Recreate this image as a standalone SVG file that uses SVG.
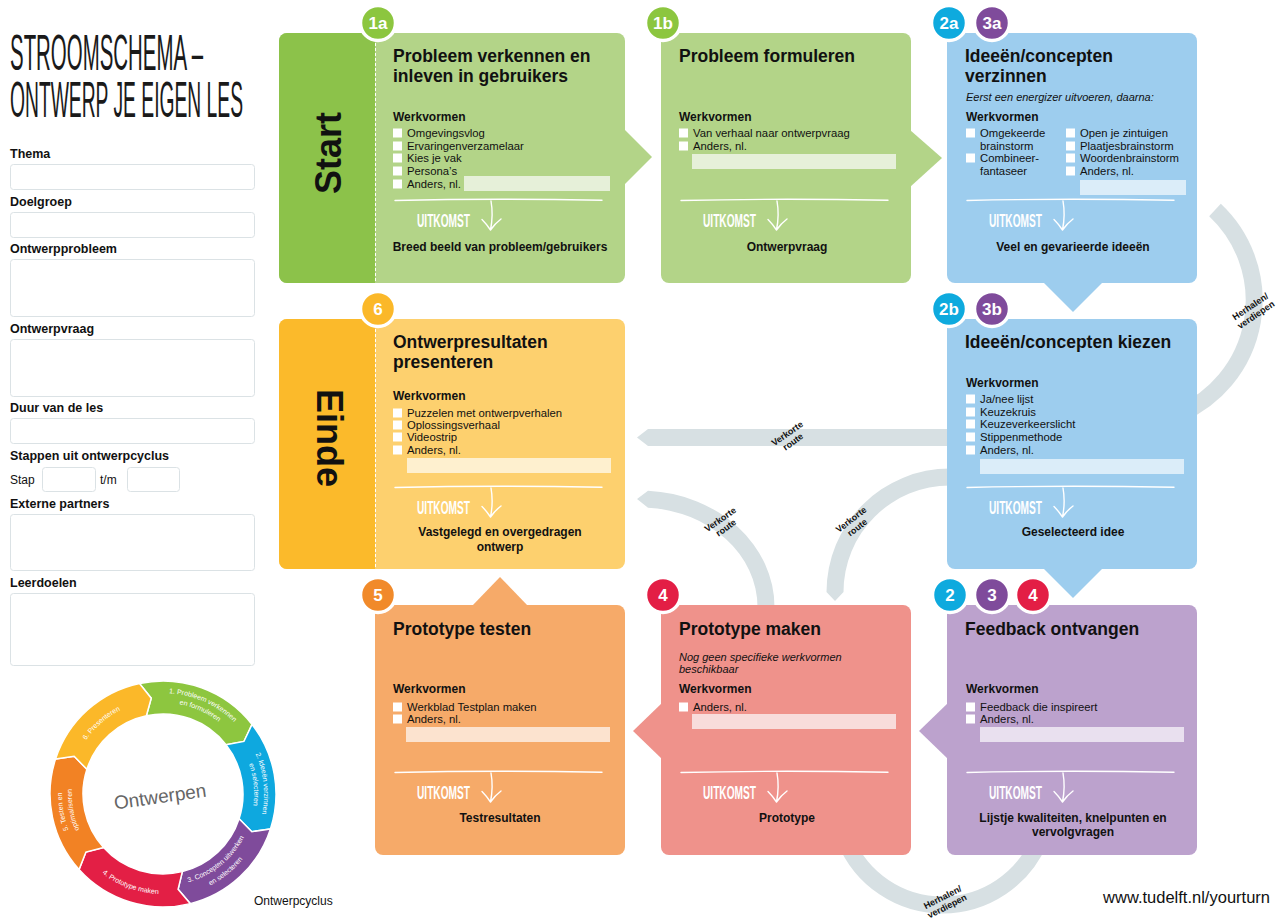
<svg xmlns="http://www.w3.org/2000/svg" width="1287" height="921" viewBox="0 0 1287 921">
<style>
text{font-family:"Liberation Sans",Arial,sans-serif;fill:#111}
.ttl{font-size:50px;fill:#1a1a1a}
.fl{font-size:12.5px;font-weight:700}
.fld{fill:#fff;stroke:#dbe2e5;stroke-width:1}
.h{font-size:17.5px;font-weight:700}
.wv{font-size:12px;font-weight:700}
.it{font-size:11.3px}
.em{font-size:11px;font-style:italic}
.res{font-size:12px;font-weight:700;text-anchor:middle}
.cb{fill:#fff}
.uk{font-size:19px;font-weight:700;fill:#fff}
.ukl{fill:none;stroke:#fff;stroke-width:1.4;stroke-linecap:round;stroke-linejoin:round}
.bdg{stroke:#fff;stroke-width:3.5}
.bt{font-size:17px;font-weight:700;fill:#fff;text-anchor:middle}
.grey{fill:#d7e0e3}
.gs{fill:none;stroke:#d7e0e3;stroke-width:17}
.lbl{font-size:9px;font-weight:700;text-anchor:middle}
.cyc{font-size:7px;fill:#fff}
.big{font-size:36px;font-weight:700;text-anchor:middle}
.dash{stroke:#fff;stroke-width:1;stroke-dasharray:3 2}
</style>
<defs>
<g id="uk">
<path class="ukl" d="M0 0.5 Q100 -1.8 207 0.3"/>
<text class="uk" x="22" y="27" textLength="53" lengthAdjust="spacingAndGlyphs">UITKOMST</text>
<path class="ukl" d="M96 1 Q98.5 15 95.5 30 M87 19.5 Q91.5 24 95.5 30 Q100 23.5 106 19"/>
</g>
<path id="cg1" d="M148.94,693.98 A101,101 0 0 1 246.73,737.52"/>
<path id="cg2" d="M150.33,703.88 A90,90 0 0 1 238.44,743.11"/>
<path id="cb1" d="M246.73,737.52 A101,101 0 0 1 256.65,831.83"/>
<path id="cb2" d="M238.44,743.11 A90,90 0 0 1 247.38,828.09"/>
<path id="cp1" d="M178.97,884.60 A92,92 0 0 0 248.30,828.46"/>
<path id="cp2" d="M180.88,895.43 A103,103 0 0 0 258.50,832.58"/>
<path id="cr" d="M86.40,858.28 A100,100 0 0 0 180.36,892.48"/>
<path id="co1" d="M85.63,858.92 A101,101 0 0 1 68.09,759.46"/>
<path id="co2" d="M93.29,852.49 A90,90 0 0 1 77.49,762.88"/>
<path id="cy" d="M74.67,761.85 A94,94 0 0 1 143.46,702.06"/>
</defs>

<rect width="1287" height="921" fill="#fff"/>

<g id="title">
<text class="ttl" x="10" y="70" textLength="193" lengthAdjust="spacingAndGlyphs">STROOMSCHEMA –</text>
<text class="ttl" x="10" y="117" textLength="233" lengthAdjust="spacingAndGlyphs">ONTWERP JE EIGEN LES</text>
</g>

<g id="form">
<text class="fl" x="10" y="158">Thema</text>
<rect class="fld" x="10.5" y="164.5" width="244" height="25" rx="3"/>
<text class="fl" x="10" y="206">Doelgroep</text>
<rect class="fld" x="10.5" y="212.5" width="244" height="25" rx="3"/>
<text class="fl" x="10" y="253">Ontwerpprobleem</text>
<rect class="fld" x="10.5" y="259.5" width="244" height="57" rx="3"/>
<text class="fl" x="10" y="333">Ontwerpvraag</text>
<rect class="fld" x="10.5" y="339.5" width="244" height="57" rx="3"/>
<text class="fl" x="10" y="412">Duur van de les</text>
<rect class="fld" x="10.5" y="418.5" width="244" height="25" rx="3"/>
<text class="fl" x="10" y="460">Stappen uit ontwerpcyclus</text>
<text x="10" y="484" font-size="12">Stap</text>
<rect class="fld" x="42.5" y="467.5" width="53" height="24" rx="3"/>
<text x="100" y="484" font-size="12">t/m</text>
<rect class="fld" x="127.5" y="467.5" width="52" height="24" rx="3"/>
<text class="fl" x="10" y="508">Externe partners</text>
<rect class="fld" x="10.5" y="514.5" width="244" height="56" rx="3"/>
<text class="fl" x="10" y="587">Leerdoelen</text>
<rect class="fld" x="10.5" y="593.5" width="244" height="72" rx="3"/>
</g>

<g id="cycle">
<g stroke="#fff" stroke-width="1.5">
<path fill="#8dc63f" d="M139.51,683.47 A113,113 0 0 1 252.04,724.43 L243.93,741.45 L226.04,744.74 A80,80 0 0 0 146.37,715.75 L151.24,698.22 Z"/>
<path fill="#0ea8df" d="M252.04,724.43 A113,113 0 0 1 270.47,828.92 L251.83,831.70 L239.09,818.72 A80,80 0 0 0 226.04,744.74 L243.93,741.45 Z"/>
<path fill="#7f4b9b" d="M270.47,828.92 A113,113 0 0 1 190.33,903.64 L178.09,889.31 L182.35,871.62 A80,80 0 0 0 239.09,818.72 L251.83,831.70 Z"/>
<path fill="#e31f45" d="M190.33,903.64 A113,113 0 0 1 79.03,869.61 L85.94,852.07 L103.55,847.53 A80,80 0 0 0 182.35,871.62 L178.09,889.31 Z"/>
<path fill="#f28224" d="M79.03,869.61 A113,113 0 0 1 55.53,759.08 L74.17,756.30 L86.91,769.28 A80,80 0 0 0 103.55,847.53 L85.94,852.07 Z"/>
<path fill="#fbb829" d="M55.53,759.08 A113,113 0 0 1 139.51,683.47 L151.24,698.22 L146.37,715.75 A80,80 0 0 0 86.91,769.28 L74.17,756.30 Z"/>
</g>
<text class="cyc" text-anchor="middle"><textPath href="#cg1" startOffset="50%">1. Probleem verkennen</textPath></text>
<text class="cyc" text-anchor="middle"><textPath href="#cg2" startOffset="50%">en formuleren</textPath></text>
<text class="cyc" text-anchor="middle"><textPath href="#cb1" startOffset="50%">2. Ideeën verzinnen</textPath></text>
<text class="cyc" text-anchor="middle"><textPath href="#cb2" startOffset="50%">en selecteren</textPath></text>
<text class="cyc" text-anchor="middle"><textPath href="#cp1" startOffset="50%">3. Concepten uitwerken</textPath></text>
<text class="cyc" text-anchor="middle"><textPath href="#cp2" startOffset="50%">en selecteren</textPath></text>
<text class="cyc" text-anchor="middle"><textPath href="#cr" startOffset="50%">4. Prototype maken</textPath></text>
<text class="cyc" text-anchor="middle"><textPath href="#co1" startOffset="50%">5. Testen en</textPath></text>
<text class="cyc" text-anchor="middle"><textPath href="#co2" startOffset="50%">optimaliseren</textPath></text>
<text class="cyc" text-anchor="middle"><textPath href="#cy" startOffset="50%">6. Presenteren</textPath></text>
<text x="0" y="0" font-size="19" style="fill:#666" text-anchor="middle" transform="translate(161 803) rotate(-8)">Ontwerpen</text>
<text x="254" y="905" font-size="12">Ontwerpcyclus</text>
</g>

<g id="connectors">
<path class="gs" d="M1215 210 A124 124 0 0 1 1180 414"/>
<path class="gs" d="M845.4 840 A105 105 0 0 0 1039.6 840"/>
<polygon class="grey" points="950,429 648,429 637,437.5 648,446 950,446"/>
<path class="grey" d="M950 468.5 A123.5 123.5 0 0 0 826.5 592 L835 601 L843.5 592 A106.5 106.5 0 0 1 950 485.5 Z"/>
<path class="grey" d="M774.5 612 V607 A134.5 116.5 0 0 0 648 490.7 L637 499 L648 507.7 A117.5 99.5 0 0 1 757.5 607 V612 Z"/>
<text class="lbl" transform="translate(789 436) rotate(-35)"><tspan x="0" y="0">Verkorte</tspan><tspan x="0" y="10">route</tspan></text>
<text class="lbl" transform="translate(853 522) rotate(-38)"><tspan x="0" y="0">Verkorte</tspan><tspan x="0" y="10">route</tspan></text>
<text class="lbl" transform="translate(722 522) rotate(-35)"><tspan x="0" y="0">Verkorte</tspan><tspan x="0" y="10">route</tspan></text>
<text class="lbl" transform="translate(1252 309) rotate(-34)"><tspan x="0" y="0">Herhalen/</tspan><tspan x="0" y="10">verdiepen</tspan></text>
<text class="lbl" transform="translate(944 900) rotate(-27)"><tspan x="0" y="0">Herhalen/</tspan><tspan x="0" y="10">verdiepen</tspan></text>
</g>

<g id="node-1a">
<rect x="279" y="33" width="346" height="250" rx="8" fill="#b3d488"/>
<path d="M375 33H287A8 8 0 0 0 279 41V275A8 8 0 0 0 287 283H375Z" fill="#8cc24a"/>
<line class="dash" x1="375.5" y1="33" x2="375.5" y2="283"/>
<polygon points="624,129 652,157 624,185" fill="#b3d488"/>
<text class="big" transform="translate(341 153) rotate(-90)">Start</text>
<circle class="bdg" cx="378" cy="23" r="17.5" fill="#8cc63f"/><text class="bt" x="378" y="29">1a</text>
<text class="h" x="393" y="62">Probleem verkennen en</text>
<text class="h" x="393" y="82">inleven in gebruikers</text>
<text class="wv" x="393" y="121">Werkvormen</text>
<rect class="cb" x="393" y="128.5" width="9" height="9"/>
<rect class="cb" x="393" y="141.5" width="9" height="9"/>
<rect class="cb" x="393" y="153.5" width="9" height="9"/>
<rect class="cb" x="393" y="166.5" width="9" height="9"/>
<rect class="cb" x="393" y="179.5" width="9" height="9"/>
<text class="it" x="407" y="137">Omgevingsvlog</text>
<text class="it" x="407" y="150">Ervaringenverzamelaar</text>
<text class="it" x="407" y="162">Kies je vak</text>
<text class="it" x="407" y="175">Persona’s</text>
<text class="it" x="407" y="188">Anders, nl.</text>
<rect x="464" y="176" width="146" height="15" fill="#e6f0d9"/>
<use href="#uk" x="395" y="200"/>
<text class="res" x="500" y="251">Breed beeld van probleem/gebruikers</text>
</g>

<g id="node-1b">
<rect x="661" y="33" width="250" height="250" rx="8" fill="#b3d488"/>
<polygon points="910,130 942,158 910,187" fill="#b3d488"/>
<circle class="bdg" cx="663" cy="23" r="17.5" fill="#8cc63f"/><text class="bt" x="663" y="29">1b</text>
<text class="h" x="679" y="62">Probleem formuleren</text>
<text class="wv" x="679" y="121">Werkvormen</text>
<rect class="cb" x="679" y="128.5" width="9" height="9"/>
<rect class="cb" x="679" y="141.5" width="9" height="9"/>
<text class="it" x="693" y="137">Van verhaal naar ontwerpvraag</text>
<text class="it" x="693" y="150">Anders, nl.</text>
<rect x="692" y="154" width="204" height="15" fill="#e6f0d9"/>
<use href="#uk" x="681" y="200"/>
<text class="res" x="787" y="251">Ontwerpvraag</text>
</g>

<g id="node-2a">
<rect x="947" y="33" width="250" height="250" rx="8" fill="#9dcdee"/>
<polygon points="1043,282 1073,312 1103,282" fill="#9dcdee"/>
<circle class="bdg" cx="949" cy="23" r="17.5" fill="#0eaade"/><text class="bt" x="949" y="29">2a</text>
<circle class="bdg" cx="992" cy="23" r="17.5" fill="#7f4b9b"/><text class="bt" x="992" y="29">3a</text>
<text class="h" x="965" y="62">Ideeën/concepten</text>
<text class="h" x="965" y="82">verzinnen</text>
<text class="em" x="966" y="101">Eerst een energizer uitvoeren, daarna:</text>
<text class="wv" x="966" y="121">Werkvormen</text>
<rect class="cb" x="966" y="128.5" width="9" height="9"/>
<rect class="cb" x="966" y="153.5" width="9" height="9"/>
<text class="it" x="980" y="137">Omgekeerde</text>
<text class="it" x="980" y="150">brainstorm</text>
<text class="it" x="980" y="162">Combineer-</text>
<text class="it" x="980" y="175">fantaseer</text>
<rect class="cb" x="1066" y="128.5" width="9" height="9"/>
<rect class="cb" x="1066" y="141.5" width="9" height="9"/>
<rect class="cb" x="1066" y="153.5" width="9" height="9"/>
<rect class="cb" x="1066" y="166.5" width="9" height="9"/>
<text class="it" x="1080" y="137">Open je zintuigen</text>
<text class="it" x="1080" y="150">Plaatjesbrainstorm</text>
<text class="it" x="1080" y="162">Woordenbrainstorm</text>
<text class="it" x="1080" y="175">Anders, nl.</text>
<rect x="1080" y="180" width="106" height="15" fill="#dbedf9"/>
<use href="#uk" x="967" y="200"/>
<text class="res" x="1073" y="251">Veel en gevarieerde ideeën</text>
</g>

<g id="node-6">
<rect x="279" y="319" width="346" height="250" rx="8" fill="#fdd06e"/>
<path d="M375 319H287A8 8 0 0 0 279 327V561A8 8 0 0 0 287 569H375Z" fill="#fbba2b"/>
<line class="dash" x1="375.5" y1="319" x2="375.5" y2="569"/>
<text class="big" transform="translate(317 438) rotate(90)">Einde</text>
<circle class="bdg" cx="378" cy="309" r="17.5" fill="#fbb829"/><text class="bt" x="378" y="315">6</text>
<text class="h" x="393" y="348">Ontwerpresultaten</text>
<text class="h" x="393" y="368">presenteren</text>
<text class="wv" x="393" y="400">Werkvormen</text>
<rect class="cb" x="393" y="408.5" width="9" height="9"/>
<rect class="cb" x="393" y="420.5" width="9" height="9"/>
<rect class="cb" x="393" y="432.5" width="9" height="9"/>
<rect class="cb" x="393" y="445.5" width="9" height="9"/>
<text class="it" x="407" y="417">Puzzelen met ontwerpverhalen</text>
<text class="it" x="407" y="429">Oplossingsverhaal</text>
<text class="it" x="407" y="441">Videostrip</text>
<text class="it" x="407" y="454">Anders, nl.</text>
<rect x="407" y="458" width="204" height="15" fill="#fef0cf"/>
<use href="#uk" x="395" y="487"/>
<text class="res" x="500" y="536">Vastgelegd en overgedragen</text>
<text class="res" x="500" y="551">ontwerp</text>
</g>

<g id="node-2b">
<rect x="947" y="319" width="250" height="250" rx="8" fill="#9dcdee"/>
<polygon points="1043,568 1073,598 1103,568" fill="#9dcdee"/>
<circle class="bdg" cx="949" cy="309" r="17.5" fill="#0eaade"/><text class="bt" x="949" y="315">2b</text>
<circle class="bdg" cx="992" cy="309" r="17.5" fill="#7f4b9b"/><text class="bt" x="992" y="315">3b</text>
<text class="h" x="965" y="348">Ideeën/concepten kiezen</text>
<text class="wv" x="966" y="387">Werkvormen</text>
<rect class="cb" x="966" y="394.5" width="9" height="9"/>
<rect class="cb" x="966" y="407.5" width="9" height="9"/>
<rect class="cb" x="966" y="419.5" width="9" height="9"/>
<rect class="cb" x="966" y="432.5" width="9" height="9"/>
<rect class="cb" x="966" y="445.5" width="9" height="9"/>
<text class="it" x="980" y="403">Ja/nee lijst</text>
<text class="it" x="980" y="416">Keuzekruis</text>
<text class="it" x="980" y="428">Keuzeverkeerslicht</text>
<text class="it" x="980" y="441">Stippenmethode</text>
<text class="it" x="980" y="454">Anders, nl.</text>
<rect x="980" y="459" width="204" height="15" fill="#dbedf9"/>
<use href="#uk" x="967" y="487"/>
<text class="res" x="1073" y="536">Geselecteerd idee</text>
</g>

<g id="node-5">
<rect x="375" y="605" width="250" height="250" rx="8" fill="#f6aa69"/>
<polygon points="472,606 500,577 528,606" fill="#f6aa69"/>
<circle class="bdg" cx="378" cy="595" r="17.5" fill="#f18a2a"/><text class="bt" x="378" y="601">5</text>
<text class="h" x="393" y="635">Prototype testen</text>
<text class="wv" x="393" y="693">Werkvormen</text>
<rect class="cb" x="393" y="702.5" width="9" height="9"/>
<rect class="cb" x="393" y="714.5" width="9" height="9"/>
<text class="it" x="407" y="711">Werkblad Testplan maken</text>
<text class="it" x="407" y="723">Anders, nl.</text>
<rect x="406" y="727" width="204" height="15" fill="#fce3cf"/>
<use href="#uk" x="395" y="772"/>
<text class="res" x="500" y="822">Testresultaten</text>
</g>

<g id="node-4">
<rect x="661" y="605" width="250" height="250" rx="8" fill="#ef928b"/>
<polygon points="662,703 633,731 662,759" fill="#ef928b"/>
<circle class="bdg" cx="663" cy="595" r="17.5" fill="#e31e45"/><text class="bt" x="663" y="601">4</text>
<text class="h" x="679" y="635">Prototype maken</text>
<text class="em" x="679" y="661">Nog geen specifieke werkvormen</text>
<text class="em" x="679" y="673">beschikbaar</text>
<text class="wv" x="679" y="693">Werkvormen</text>
<rect class="cb" x="679" y="702.5" width="9" height="9"/>
<text class="it" x="693" y="711">Anders, nl.</text>
<rect x="692" y="714" width="204" height="15" fill="#f8dcdb"/>
<use href="#uk" x="681" y="772"/>
<text class="res" x="787" y="822">Prototype</text>
</g>

<g id="node-feedback">
<rect x="947" y="605" width="250" height="250" rx="8" fill="#bca2cd"/>
<polygon points="948,703 919,731 948,759" fill="#bca2cd"/>
<circle class="bdg" cx="950" cy="595" r="17.5" fill="#0eaade"/><text class="bt" x="950" y="601">2</text>
<circle class="bdg" cx="992" cy="595" r="17.5" fill="#7f4b9b"/><text class="bt" x="992" y="601">3</text>
<circle class="bdg" cx="1033" cy="595" r="17.5" fill="#e31e45"/><text class="bt" x="1033" y="601">4</text>
<text class="h" x="965" y="635">Feedback ontvangen</text>
<text class="wv" x="966" y="693">Werkvormen</text>
<rect class="cb" x="966" y="702.5" width="9" height="9"/>
<rect class="cb" x="966" y="714.5" width="9" height="9"/>
<text class="it" x="980" y="711">Feedback die inspireert</text>
<text class="it" x="980" y="723">Anders, nl.</text>
<rect x="980" y="727" width="204" height="15" fill="#e9e0ef"/>
<use href="#uk" x="967" y="772"/>
<text class="res" x="1073" y="822">Lijstje kwaliteiten, knelpunten en</text>
<text class="res" x="1073" y="836">vervolgvragen</text>
</g>

<g id="footer">
<text x="1270" y="903" font-size="16.5" text-anchor="end">www.tudelft.nl/yourturn</text>
</g>
</svg>
